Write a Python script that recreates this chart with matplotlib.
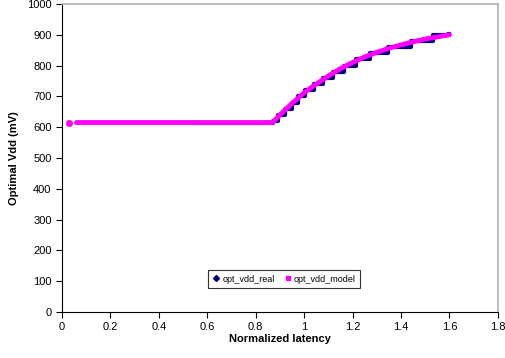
import matplotlib
matplotlib.use("Agg")
import matplotlib.pyplot as plt
from matplotlib.lines import Line2D

plt.rcParams['font.family'] = ['Liberation Sans', 'DejaVu Sans']

# Model curve
model_x = [0.03, 0.06, 0.2, 0.4, 0.6, 0.87, 0.9, 0.95, 1.0, 1.05, 1.1, 1.15, 1.2,
           1.25, 1.3, 1.35, 1.4, 1.45, 1.5, 1.55, 1.6]
model_y = [615, 615, 615, 615, 615, 615, 640, 677, 712, 740, 766, 790, 810,
           828, 843, 856, 867, 877, 886, 893, 900]

# Measured (stepped) values
real_x = [0.55, 0.87, 0.894, 0.92, 0.948, 0.976, 1.005, 1.041, 1.079, 1.12,
          1.163, 1.214, 1.273, 1.346, 1.44, 1.53, 1.60]
real_y = [615, 620, 640, 660, 680, 700, 720, 740, 760, 780,
          800, 820, 840, 860, 880, 898, 902]

xticks = [0, 0.2, 0.4, 0.6, 0.8, 1, 1.2, 1.4, 1.6, 1.8]
yticks = [0, 100, 200, 300, 400, 500, 600, 700, 800, 900, 1000]

fig = plt.figure(figsize=(5.06, 3.58), dpi=100)
ax = fig.add_axes([0.1225, 0.1285, 0.8615, 0.8605])

# real series drawn underneath, stepped
ax.plot(real_x, real_y, color='#000080', lw=3, drawstyle='steps-post',
        zorder=2)
# model series on top
ax.plot(model_x[1:], model_y[1:], color='#ff00ff', lw=3.5,
        solid_capstyle='round', zorder=3)
ax.plot(model_x[:1], model_y[:1], 'o', color='#ff00ff', ms=4, zorder=3)

ax.set_xlim(0, 1.8)
ax.set_ylim(0, 1000)
ax.set_xticks(xticks)
ax.set_xticklabels(['0', '0.2', '0.4', '0.6', '0.8', '1', '1.2', '1.4', '1.6', '1.8'])
ax.set_yticks(yticks)
ax.tick_params(labelsize=8, direction='out', length=4, width=0.8, color='black')

ax.spines['top'].set_color('#b0b0b0')
ax.spines['right'].set_color('#b0b0b0')
ax.spines['top'].set_linewidth(1.2)
ax.spines['right'].set_linewidth(1.2)
ax.spines['left'].set_color('black')
ax.spines['bottom'].set_color('black')

ax.set_xlabel('Normalized latency', fontsize=8, fontweight='bold', labelpad=1)
ax.set_ylabel('Optimal Vdd (mV)', fontsize=8, fontweight='bold', labelpad=6)

handles = [Line2D([], [], marker='D', color='#000080', ls='', ms=3),
           Line2D([], [], marker='s', color='#ff00ff', ls='', ms=3)]
leg = ax.legend(handles, ['opt_vdd_real', 'opt_vdd_model'], loc='center',
                bbox_to_anchor=(0.51, 0.107), ncol=2, fontsize=6.5,
                frameon=True, fancybox=False, edgecolor='black',
                handlelength=0.8, handletextpad=0.3, columnspacing=1.0,
                borderpad=0.5)
leg.get_frame().set_linewidth(0.8)

fig.savefig('out.png', dpi=100)
